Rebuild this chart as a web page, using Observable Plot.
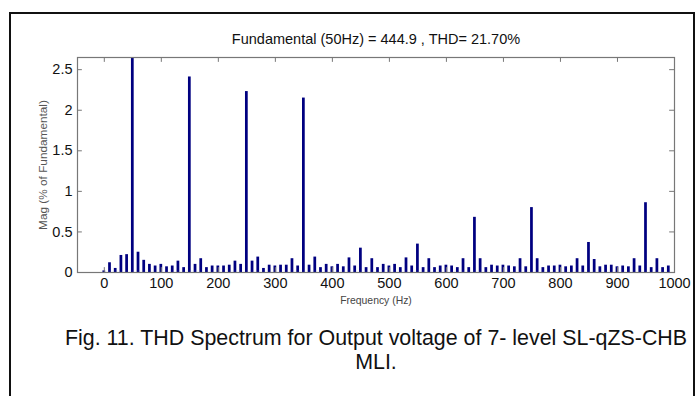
<!DOCTYPE html>
<html>
<head>
<meta charset="utf-8">
<script src="https://cdn.jsdelivr.net/npm/d3@7"></script>
<script src="https://cdn.jsdelivr.net/npm/@observablehq/plot@0.6"></script>
<style>
  html, body { margin: 0; padding: 0; background: #fff; }
  #page { position: relative; width: 699px; height: 396px; overflow: hidden; font-family: "Liberation Sans", Arial, sans-serif; }
  #box { position: absolute; left: 9px; top: 12px; width: 686px; height: 420px; border: 2px solid #111; box-sizing: border-box; }
  #title { position: absolute; left: 0; width: 752px; top: 31px; text-align: center; font-size: 14.5px; color: #111; }
  #chart { position: absolute; left: 0; top: 0; }
  #caption { position: absolute; left: 20px; width: 712px; top: 326px; text-align: center; font-size: 21.4px; line-height: 24px; color: #111; }
</style>
</head>
<body>
<div id="page">
  <div id="box"></div>
  <div id="chart"></div>
  <div id="title">Fundamental (50Hz) = 444.9 , THD= 21.70%</div>
  <div id="caption">Fig. 11. THD Spectrum for Output voltage of 7- level SL-qZS-CHB<br>MLI.</div>
</div>
<script>
// Harmonic frequencies (Hz), one bin every 10 Hz
const freqs = [
  0, 10, 20, 30, 40, 50, 60, 70, 80, 90,
  100, 110, 120, 130, 140, 150, 160, 170, 180, 190,
  200, 210, 220, 230, 240, 250, 260, 270, 280, 290,
  300, 310, 320, 330, 340, 350, 360, 370, 380, 390,
  400, 410, 420, 430, 440, 450, 460, 470, 480, 490,
  500, 510, 520, 530, 540, 550, 560, 570, 580, 590,
  600, 610, 620, 630, 640, 650, 660, 670, 680, 690,
  700, 710, 720, 730, 740, 750, 760, 770, 780, 790,
  800, 810, 820, 830, 840, 850, 860, 870, 880, 890,
  900, 910, 920, 930, 940, 950, 960, 970, 980, 990
];
// Magnitude in % of the fundamental (the 50 Hz bin is the fundamental itself)
const mags = [
  0.02, 0.12, 0.05, 0.21, 0.22, 100, 0.25, 0.15, 0.10, 0.08,
  0.10, 0.07, 0.08, 0.14, 0.06, 2.41, 0.10, 0.17, 0.06, 0.08,
  0.08, 0.08, 0.09, 0.14, 0.10, 2.23, 0.14, 0.19, 0.05, 0.09,
  0.08, 0.09, 0.09, 0.17, 0.08, 2.15, 0.09, 0.19, 0.06, 0.10,
  0.07, 0.10, 0.07, 0.18, 0.08, 0.30, 0.06, 0.17, 0.06, 0.10,
  0.08, 0.10, 0.06, 0.18, 0.08, 0.35, 0.06, 0.17, 0.06, 0.08,
  0.09, 0.08, 0.06, 0.17, 0.06, 0.68, 0.17, 0.06, 0.09, 0.08,
  0.09, 0.08, 0.07, 0.17, 0.07, 0.80, 0.17, 0.06, 0.08, 0.08,
  0.09, 0.07, 0.08, 0.17, 0.08, 0.37, 0.16, 0.07, 0.09, 0.09,
  0.07, 0.08, 0.07, 0.17, 0.08, 0.86, 0.06, 0.17, 0.06, 0.08
];
const xTicks = [0, 100, 200, 300, 400, 500, 600, 700, 800, 900, 1000];
const yTicks = [0, 0.5, 1, 1.5, 2, 2.5];
const xLabel = "Frequency (Hz)";
const yLabel = "Mag (% of Fundamental)";

const xDomain = [-47, 1000];
const yDomain = [0, 2.65];

const data = freqs.map((f, i) => ({freq: f, mag: mags[i]}));

const halfBar = 2.4;   // half bar width, Hz
const tickX = 8.5;     // inward tick length along x, Hz
const tickY = 0.06;    // inward tick length along y, %
const axisColor = "#777";

const chart = Plot.plot({
  width: 699,
  height: 320,
  marginLeft: 77,
  marginRight: 25,
  marginTop: 57,
  marginBottom: 48,
  style: {fontFamily: "'Liberation Sans', Arial, sans-serif", background: "transparent", overflow: "visible"},
  x: {domain: xDomain},
  y: {domain: yDomain},
  marks: [
    Plot.rectY(data, {x1: d => d.freq - halfBar, x2: d => d.freq + halfBar, y: "mag", fill: "#000080", clip: true}),
    Plot.frame({stroke: axisColor, strokeWidth: 1.2}),
    // inward ticks on all four sides
    Plot.ruleX(xTicks, {x: d => d, y1: 0, y2: tickY, stroke: axisColor}),
    Plot.ruleX(xTicks, {x: d => d, y1: yDomain[1] - tickY, y2: yDomain[1], stroke: axisColor}),
    Plot.ruleY(yTicks, {y: d => d, x1: xDomain[0], x2: xDomain[0] + tickX, stroke: axisColor}),
    Plot.ruleY(yTicks, {y: d => d, x1: xDomain[1] - tickX, x2: xDomain[1], stroke: axisColor}),
    Plot.axisX(xTicks, {tickSize: 0, tickPadding: 5, fontSize: 14.5, fill: "#111", label: null, tickFormat: d => String(d)}),
    Plot.axisY(yTicks, {tickSize: 0, tickPadding: 5, fontSize: 14.5, fill: "#111", label: null, tickFormat: d => String(d)}),
    Plot.text([xLabel], {text: d => d, frameAnchor: "bottom", dy: 31, fontSize: 10.4, fill: "#444"}),
    Plot.text([yLabel], {text: d => d, frameAnchor: "left", textAnchor: "middle", dx: -34, rotate: -90, fontSize: 11.8, fill: "#555"})
  ]
});
document.getElementById("chart").appendChild(chart);
</script>
</body>
</html>
